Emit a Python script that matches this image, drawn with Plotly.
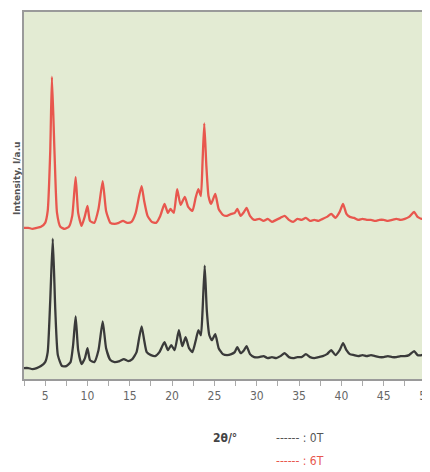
import plotly.graph_objects as go

# 2θ positions (degrees) and intensities (a.u.)
two_theta_0T = [2.5, 3.0, 3.5, 4.0, 4.5, 5.0, 5.3, 5.6, 5.9, 6.2, 6.5, 7.0, 7.5, 8.0, 8.3, 8.6, 8.9, 9.3, 9.7, 10.0,
                10.3, 10.8, 11.3, 11.8, 12.2, 12.7, 13.2, 13.8, 14.3, 14.8, 15.3, 15.8, 16.1, 16.4, 16.7, 17.0, 17.5,
                18.0, 18.5, 19.1, 19.5, 19.9, 20.3, 20.8, 21.2, 21.6, 22.0, 22.4, 22.8, 23.1, 23.4, 23.6, 23.85, 24.1,
                24.4, 24.7, 25.1, 25.5, 26.0, 26.5, 27.0, 27.4, 27.7, 28.1, 28.5, 28.8, 29.2, 29.7, 30.3, 30.8, 31.3,
                31.8, 32.3, 32.8, 33.3, 33.8, 34.3, 34.8, 35.3, 35.8, 36.3, 36.8, 37.3, 37.8, 38.3, 38.8, 39.3, 39.8,
                40.2, 40.6, 41.0, 41.5, 42.0, 42.5, 43.0, 43.5, 44.0, 44.5, 45.0, 45.5, 46.0, 46.5, 47.0, 47.5, 48.0,
                48.6, 49.0, 49.5, 50.0]
intensity_0T = [11, 11, 10, 11, 13, 17, 27, 79, 141, 69, 24, 13, 13, 17, 34, 63, 29, 15, 21, 31,
                19, 17, 29, 58, 31, 19, 17, 18, 20, 18, 20, 27, 41, 53, 39, 27, 24,
                23, 27, 37, 29, 34, 29, 49, 33, 42, 31, 27, 39, 49, 44, 69, 114, 69,
                44, 39, 45, 31, 25, 24, 25, 27, 32, 26, 29, 33, 25, 22, 22, 23, 21,
                22, 21, 23, 26, 22, 21, 22, 22, 25, 22, 21, 22, 23, 25, 29, 24, 29,
                36, 29, 25, 24, 23, 24, 23, 24, 23, 22, 22, 23, 22, 22, 23, 23, 24,
                28, 24, 24, 26]

two_theta_6T = [2.5, 3.0, 3.5, 4.0, 4.5, 5.0, 5.3, 5.6, 5.8, 6.1, 6.4, 6.8, 7.3, 7.8, 8.2, 8.6, 8.9, 9.3, 9.7, 10.0,
                10.3, 10.8, 11.3, 11.8, 12.2, 12.7, 13.2, 13.7, 14.2, 14.7, 15.2, 15.7, 16.1, 16.4, 16.7, 17.1, 17.6,
                18.1, 18.6, 19.1, 19.5, 19.8, 20.2, 20.6, 21.0, 21.5, 21.9, 22.4, 22.8, 23.1, 23.4, 23.6, 23.8, 24.05,
                24.3, 24.6, 25.1, 25.5, 26.0, 26.5, 27.0, 27.4, 27.7, 28.1, 28.5, 28.8, 29.2, 29.7, 30.3, 30.8, 31.3,
                31.8, 32.3, 32.8, 33.3, 33.8, 34.3, 34.8, 35.3, 35.8, 36.3, 36.8, 37.3, 37.8, 38.3, 38.8, 39.3, 39.8,
                40.2, 40.6, 41.0, 41.5, 42.0, 42.5, 43.0, 43.5, 44.0, 44.5, 45.0, 45.5, 46.0, 46.5, 47.0, 47.5, 48.0,
                48.6, 49.0, 49.5, 50.0]
intensity_6T = [152, 152, 151, 152, 153, 157, 169, 229, 304, 229, 167, 153, 151, 153, 164, 203, 167, 154, 164, 174,
                159, 157, 171, 199, 169, 157, 156, 157, 159, 157, 158, 167, 184, 194, 179, 164, 158,
                157, 164, 176, 167, 171, 167, 191, 175, 183, 173, 169, 183, 191, 184, 219, 257, 214,
                184, 176, 186, 171, 165, 164, 166, 167, 171, 164, 168, 172, 164, 160, 161, 159, 161,
                158, 160, 162, 164, 160, 158, 161, 160, 162, 159, 160, 159, 161, 163, 166, 162, 168,
                176, 166, 163, 162, 160, 161, 160, 160, 159, 160, 160, 159, 160, 161, 160, 161, 163,
                168, 163, 161, 164]

x_ticks = [2.5, 5, 7.5, 10, 12.5, 15, 17.5, 20, 22.5, 25, 27.5, 30, 32.5, 35, 37.5, 40, 42.5, 45, 47.5, 50]
x_tick_labels = ["" if v % 5 else str(int(v)) for v in x_ticks]

font_narrow = "Liberation Sans Narrow, DejaVu Sans Condensed, Arial, sans-serif"

# page offset (body margin) in the browser window
OFF = 8
W, H = 430, 472
l, r, t, b = 16, 12, 2, 101
pw, ph = W - l - r, H - t - b


def to_paper(wx, wy):
    return (wx - OFF - l) / pw, (H - b - (wy - OFF)) / ph


fig = go.Figure()
fig.add_trace(go.Scatter(x=two_theta_0T, y=intensity_0T, mode="lines", name="0T",
                         line=dict(color="#3a3a3a", width=2.3, shape="spline", smoothing=0.5),
                         showlegend=False))
fig.add_trace(go.Scatter(x=two_theta_6T, y=intensity_6T, mode="lines", name="6T",
                         line=dict(color="#e8574e", width=2.3, shape="spline", smoothing=0.5),
                         showlegend=False))

ann_specs = [
    ("<b>Intensity, I/a.u</b>", 17, 177, -90, "DejaVu Sans", 9, "#555555"),
    ("<b>2θ/°</b>", 225, 438, 0, font_narrow, 12, "#444444"),
    ("------ : 0T", 300, 438, 0, font_narrow, 12, "#555555"),
    ("------ : 6T", 300, 461, 0, font_narrow, 12, "#e8574e"),
]
annotations = []
for text, wx, wy, ang, fam, size, col in ann_specs:
    px, py = to_paper(wx, wy)
    annotations.append(dict(text=text, x=px, y=py, xref="paper", yref="paper",
                            xanchor="center", yanchor="middle", textangle=ang,
                            showarrow=False, font=dict(family=fam, size=size, color=col)))

fig.update_layout(
    width=W, height=H,
    margin=dict(l=l, r=r, t=t, b=b),
    paper_bgcolor="white",
    plot_bgcolor="#e3ebd3",
    xaxis=dict(range=[2.5, 50], tickvals=x_ticks, ticktext=x_tick_labels,
               ticks="outside", ticklen=5, tickcolor="#aaaaaa", tickwidth=1,
               showgrid=False, zeroline=False, showline=True, linecolor="#9a9a9a",
               linewidth=1.5, mirror=True,
               tickfont=dict(family=font_narrow, size=12, color="#666666")),
    yaxis=dict(range=[0, 369], showticklabels=False, ticks="", showgrid=False,
               zeroline=False, showline=True, linecolor="#9a9a9a", linewidth=1.5, mirror=True),
    annotations=annotations,
)

fig.write_html("out.html")
